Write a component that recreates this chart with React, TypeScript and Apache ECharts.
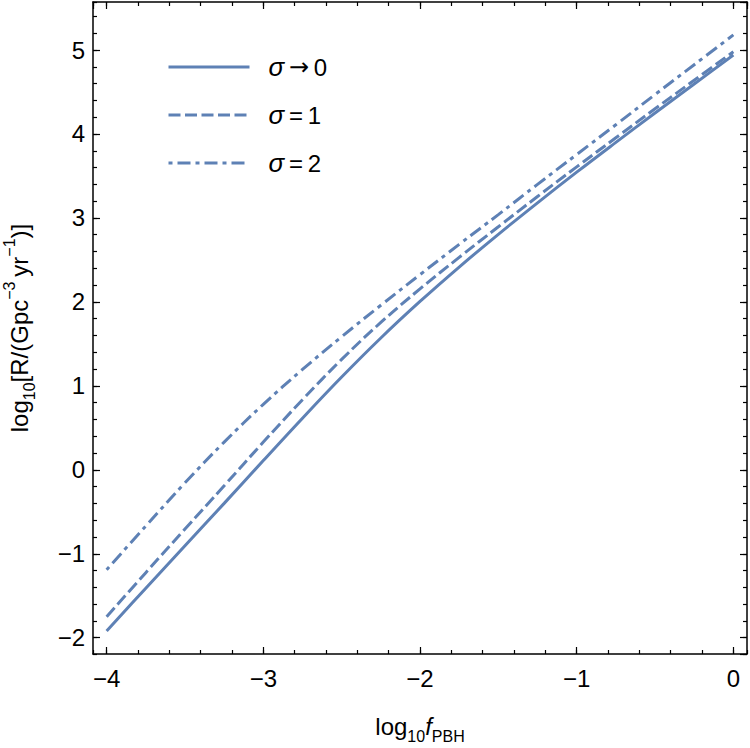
import React, { useEffect, useRef } from "react";
import * as echarts from "echarts";

// log10 f_PBH sample points
const fLog = [
  -4, -3.75, -3.5, -3.25, -3, -2.75, -2.5, -2.25, -2, -1.75, -1.5, -1.25, -1,
  -0.75, -0.5, -0.25, 0,
];

// log10 of the merger rate for each width of the mass function
const rateSigma0 = [
  -1.92, -1.41, -0.905, -0.4, 0.11, 0.615, 1.105, 1.57, 2.005, 2.415, 2.805,
  3.18, 3.545, 3.9, 4.25, 4.595, 4.94,
];
const rateSigma1 = [
  -1.75, -1.225, -0.705, -0.19, 0.33, 0.835, 1.315, 1.755, 2.155, 2.53, 2.895,
  3.255, 3.608, 3.955, 4.3, 4.64, 4.98,
];
const rateSigma2 = [
  -1.19, -0.67, -0.155, 0.33, 0.78, 1.195, 1.585, 1.96, 2.325, 2.685, 3.04,
  3.4, 3.755, 4.11, 4.47, 4.825, 5.18,
];

const seriesNames = ["σ→0", "σ=1", "σ=2"];

const X_MIN = -4.087;
const X_MAX = 0.087;
const Y_MIN = -2.194;
const Y_MAX = 5.572;

const LINE_COLOR = "#5e81b5";
const LINE_WIDTH = 3;
const FONT = "'Liberation Sans', Arial, sans-serif";

const fmtTick = (v: number) =>
  Math.abs(v - Math.round(v)) < 1e-9 ? String(Math.round(v)).replace("-", "\u2212") : "";

function frameAxis(
  position: string,
  min: number,
  max: number,
  splitNumber: number,
  major: boolean,
  labels: boolean,
  labelMargin: number
) {
  return {
    type: "value",
    position,
    min,
    max,
    splitNumber,
    axisLine: {
      show: major,
      onZero: false,
      lineStyle: { color: "#000", width: 1.5 },
    },
    axisTick: {
      show: true,
      inside: true,
      length: major ? 7 : 4,
      lineStyle: { color: "#000", width: 1.2 },
    },
    minorTick: { show: false },
    splitLine: { show: false },
    axisLabel: {
      show: labels,
      showMinLabel: false,
      showMaxLabel: false,
      margin: labelMargin,
      formatter: fmtTick,
      color: "#000",
      fontSize: 24,
      fontFamily: FONT,
    },
  };
}

export default function App() {
  const ref = useRef<HTMLDivElement>(null);

  useEffect(() => {
    if (!ref.current) return;
    const chart = echarts.init(ref.current, undefined, { renderer: "svg" });

    const xBottom: any = frameAxis("bottom", X_MIN, X_MAX, 4, true, true, 12);
    xBottom.name = "log{sub|10}{it|f}{sub|PBH}";
    xBottom.nameLocation = "middle";
    xBottom.nameGap = 54;
    xBottom.nameTextStyle = {
      color: "#000",
      fontSize: 24,
      lineHeight: 36,
      fontFamily: FONT,
      rich: {
        sub: { fontSize: 16, lineHeight: 16, verticalAlign: "bottom", fontFamily: FONT, color: "#000" },
        it: { fontSize: 24, lineHeight: 36, fontStyle: "italic", fontFamily: FONT, color: "#000" },
      },
    };

    const yLeft: any = frameAxis("left", Y_MIN, Y_MAX, 7, true, true, 8);
    yLeft.name = "log{sub|10}[R/(Gpc{sup|\u22123}\u2009yr{sup|\u22121})]";
    yLeft.nameLocation = "middle";
    yLeft.nameGap = 56;
    yLeft.nameRotate = 90;
    yLeft.nameTextStyle = {
      color: "#000",
      fontSize: 24,
      lineHeight: 36,
      fontFamily: FONT,
      rich: {
        sub: { fontSize: 16, lineHeight: 16, verticalAlign: "bottom", fontFamily: FONT, color: "#000" },
        sup: { fontSize: 16, lineHeight: 16, verticalAlign: "top", fontFamily: FONT, color: "#000" },
      },
    };

    const mkSeries = (name: string, values: number[], type: any) => ({
      name,
      type: "line",
      xAxisIndex: 0,
      yAxisIndex: 0,
      data: fLog.map((x, i) => [x, values[i]]),
      showSymbol: false,
      symbol: "none",
      smooth: 0.4,
      lineStyle: { color: LINE_COLOR, width: LINE_WIDTH, type },
      itemStyle: { color: LINE_COLOR },
    });

    chart.setOption({
      animation: false,
      backgroundColor: "#fff",
      grid: {
        left: 93,
        right: 3,
        top: 2,
        bottom: 94,
        containLabel: false,
        outerBoundsMode: "none",
      },
      xAxis: [
        xBottom,
        frameAxis("bottom", X_MIN, X_MAX, 20, false, false, 10),
        frameAxis("top", X_MIN, X_MAX, 4, true, false, 10),
        frameAxis("top", X_MIN, X_MAX, 20, false, false, 10),
      ],
      yAxis: [
        yLeft,
        frameAxis("left", Y_MIN, Y_MAX, 38, false, false, 8),
        frameAxis("right", Y_MIN, Y_MAX, 7, true, false, 8),
        frameAxis("right", Y_MIN, Y_MAX, 38, false, false, 8),
      ],
      legend: {
        orient: "vertical",
        left: 167,
        top: 52,
        padding: 0,
        itemWidth: 81,
        itemHeight: 14,
        itemGap: 18,
        data: seriesNames,
        itemStyle: { opacity: 0 },
        lineStyle: { width: LINE_WIDTH },
        formatter: (name: string) =>
          "{it|σ}" +
          (name.charAt(1) === "→"
            ? "{arr|\u2009→\u2009}" + name.slice(2)
            : "\u2009" + name.charAt(1) + "\u2009" + name.slice(2)),
        textStyle: {
          color: "#000",
          fontSize: 24,
          lineHeight: 30,
          fontFamily: FONT,
          padding: [0, 0, 0, 14],
          rich: {
            it: { fontSize: 26, lineHeight: 30, fontStyle: "italic", fontFamily: FONT, color: "#000" },
            arr: { fontSize: 24, lineHeight: 30, fontFamily: "'DejaVu Sans', sans-serif", color: "#000" },
          },
        },
      },
      series: [
        mkSeries(seriesNames[0], rateSigma0, "solid"),
        mkSeries(seriesNames[1], rateSigma1, [12, 4.5]),
        mkSeries(seriesNames[2], rateSigma2, [4, 5, 13, 5]),
      ],
    });

    return () => chart.dispose();
  }, []);

  return (
    <div
      ref={ref}
      style={{ position: "absolute", left: 0, top: 0, width: 750, height: 748 }}
    />
  );
}
